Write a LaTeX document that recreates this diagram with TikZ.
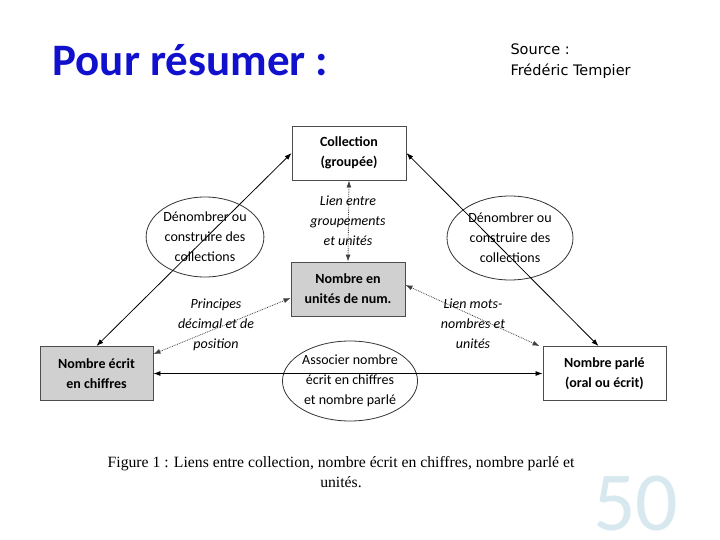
\documentclass[tikz,border=0pt]{standalone}
\usepackage{fontspec}
\setmainfont{Carlito}
\newfontfamily\legendfont{Liberation Serif}
\newfontfamily\sourcefont{DejaVu Sans}
\usetikzlibrary{shapes.geometric,arrows.meta}
\definecolor{titreblue}{RGB}{16,16,205}
\definecolor{grisbox}{RGB}{208,208,208}
\definecolor{numpage}{RGB}{216,232,239}

\begin{document}
\begin{tikzpicture}[x=1pt,y=-1pt,>={Latex[length=7pt,width=5pt]},
	boite/.style={draw=black!70,line width=0.9pt,minimum height=54pt,align=center,
		inner sep=0pt,font=\bfseries\fontsize{14}{20}\selectfont},
	bulle/.style={draw=black!80,line width=0.8pt,ellipse,inner sep=0pt,align=center,
		font=\fontsize{14}{20}\selectfont},
	lien/.style={align=center,font=\itshape\fontsize{14}{20}\selectfont},
	plein/.style={<->,line width=0.8pt},
	pointille/.style={<->,densely dotted,line width=0.8pt,black!75}]
	\useasboundingbox (0,0) rectangle (720,540);
	% titres
	\node (titre) [anchor=west,text=titreblue,font=\bfseries\fontsize{45}{50}\selectfont] at (49,60) {Pour résumer :};
	\node (source) [anchor=west,align=left,font=\sourcefont\fontsize{14.5}{21}\selectfont] at (507,61) {Source :\\Frédéric Tempier};
	\node (numero) [anchor=base west,inner sep=0pt,text=numpage,font=\fontsize{84}{84}\selectfont] at (593,530) {50};
	% boites
	\node (coll)   [boite,minimum width=114pt] at (349,153) {Collection\\(groupée)};
	\node (unites) [boite,minimum width=114pt,fill=grisbox] at (348,289) {Nombre en\\unités de num.};
	\node (ecrit)  [boite,minimum width=113pt,fill=grisbox] at (96.5,373.5) {Nombre écrit\\en chiffres};
	\node (parle)  [boite,minimum width=123pt] at (604.5,373.5) {Nombre parlé\\(oral ou écrit)};
	% bulles
	\node (denomA) [bulle,minimum width=100pt,minimum height=80pt] at (205,237) {Dénombrer ou\\construire des\\collections};
	\node (denomB) [bulle,minimum width=126pt,minimum height=84pt] at (510,238) {Dénombrer ou\\construire des\\collections};
	\node (assoc)  [bulle,minimum width=124pt,minimum height=80pt] at (350,381) {Associer nombre\\écrit en chiffres\\et nombre parlé};
	% liens
	\node (lienA) [lien] at (348,221) {Lien entre\\groupements\\et unités};
	\node (lienB) [lien] at (216,325) {Principes\\décimal et de\\position};
	\node (lienC) [lien] at (473,324) {Lien mots-\\nombres et\\unités};
	\draw [plein] (coll.west) -- (ecrit.north);
	\draw [plein] (coll.east) -- ([xshift=-6pt]parle.north);
	\draw [plein] (ecrit.east) -- (parle.west);
	\draw [pointille] (coll.south) -- (unites.north);
	\draw [pointille] ([yshift=-9pt]unites.west) -- ([yshift=-8pt]ecrit.north east);
	\draw [pointille] ([yshift=4pt]unites.east) -- ([xshift=-3pt]parle.north west);
	% legende
	\node (legende) [align=center,font=\legendfont\fontsize{15.7}{20}\selectfont] at (341,472)
		{Figure 1 : Liens entre collection, nombre écrit en chiffres, nombre parlé et\\unités.};
\end{tikzpicture}
\end{document}
